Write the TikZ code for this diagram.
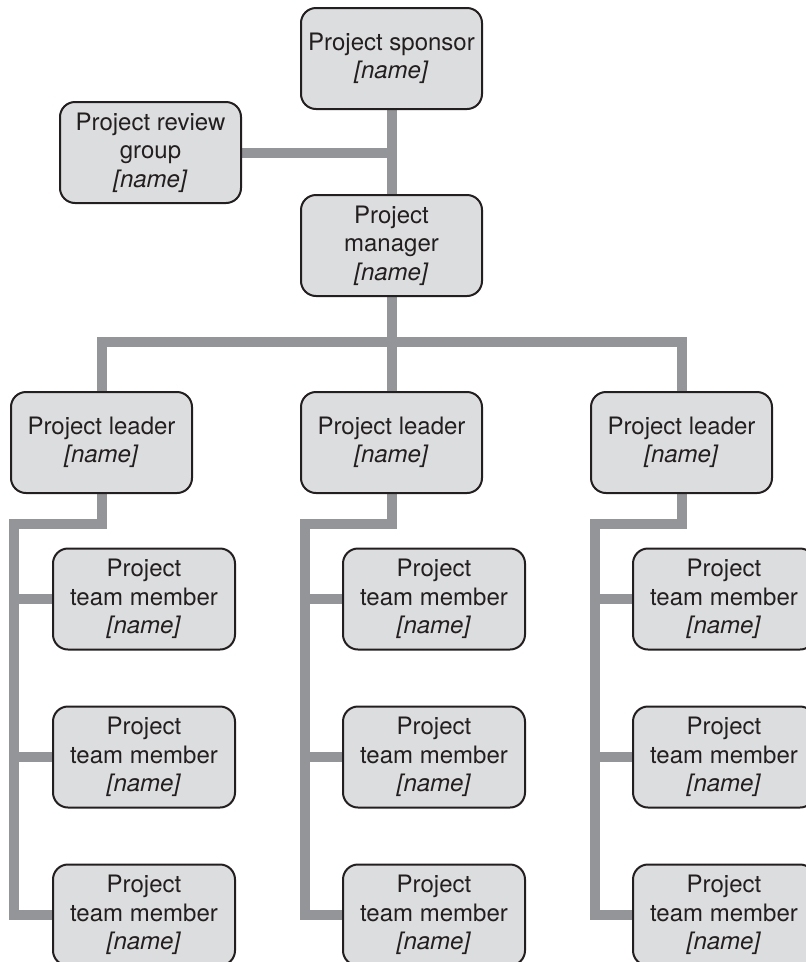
\documentclass[tikz,border=0pt]{standalone}
\usepackage{fontspec}
\setmainfont{TeX Gyre Heros}
\usetikzlibrary{backgrounds}
\definecolor{boxfill}{HTML}{DCDDDE}
\definecolor{boxline}{HTML}{231F20}
\definecolor{linkgray}{HTML}{939598}
\begin{document}
\begin{tikzpicture}[x=1pt,y=-1pt,
  orgbox/.style={draw=boxline, fill=boxfill, line width=2pt, rounded corners=15pt,
    minimum width=181pt, minimum height=101pt, align=center, inner sep=0pt,
    text=boxline, font=\fontsize{24}{28.5}\selectfont},
  memberbox/.style={orgbox, minimum width=182pt},
  link/.style={draw=linkgray, line width=10pt, line join=miter, line cap=butt}]
\clip (0,0) rectangle (806,962);

% top of the chart
\node[orgbox] (sponsor) at (391.5,58.5) {Project sponsor\\\textit{[name]}};
\node[orgbox] (review) at (150.5,152.5) {Project review\\group\\\textit{[name]}};
\node[orgbox] (manager) at (391.5,245.5) {Project\\manager\\\textit{[name]}};

% project leaders
\node[orgbox] (lead1) at (101.5,442.5) {Project leader\\\textit{[name]}};
\node[orgbox] (lead2) at (391.5,442.5) {Project leader\\\textit{[name]}};
\node[orgbox] (lead3) at (681.5,442.5) {Project leader\\\textit{[name]}};

% team members, three per leader
\foreach \g/\cx in {1/144, 2/434, 3/724}{
  \foreach \m/\cy in {1/599, 2/757, 3/915}{
    \node[memberbox] (mem\g\m) at (\cx,\cy) {Project\\team member\\\textit{[name]}};
  }
}

% branch points of the connectors
\coordinate (bus) at (391.5,342);
\coordinate (spine1) at (14,523.5);
\coordinate (spine2) at (304.5,523.5);
\coordinate (spine3) at (594.5,523.5);

% connectors, beneath the boxes
\begin{scope}[on background layer]
\draw[link] (sponsor.south) -- (manager.north);
\draw[link] (review.east) -- (review.east -| sponsor.south);
\draw[link] (manager.south) -- (bus);
\draw[link] (lead1.north) |- (lead3.north |- bus) -- (lead3.north);
\draw[link] (lead2.north) -- (lead2.north |- bus);
\foreach \g in {1,2,3}{
  \draw[link] (lead\g.south) |- (spine\g) -- (spine\g |- mem\g3.west) -- (mem\g3.west);
  \draw[link] (spine\g |- mem\g1.west) -- (mem\g1.west);
  \draw[link] (spine\g |- mem\g2.west) -- (mem\g2.west);
}
\end{scope}
\end{tikzpicture}
\end{document}
